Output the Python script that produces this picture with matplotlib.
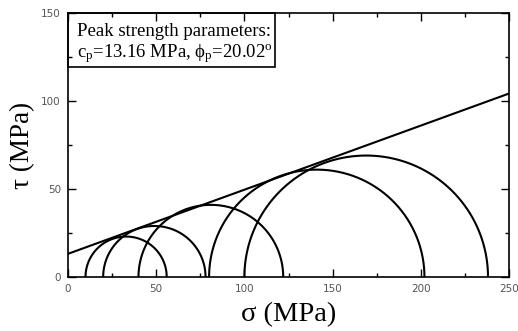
import numpy as np
import matplotlib
matplotlib.use('Agg')
from matplotlib import pyplot as plt
from matplotlib.patches import Rectangle

# triaxial test results (MPa)
sigma3 = [10, 20, 40, 80, 100]
sigma1 = [56, 78, 122, 202, 238]

# peak strength envelope
c_p = 13.16
phi_p = 20.02

x_ticks = [0, 50, 100, 150, 200, 250]
y_ticks = [0, 50, 100, 150]

plt.rcParams['mathtext.fontset'] = 'custom'
plt.rcParams['mathtext.rm'] = 'Liberation Serif'
plt.rcParams['mathtext.it'] = 'Liberation Serif'
serif = ['Liberation Serif', 'DejaVu Serif']

fig = plt.figure(figsize=(5.18, 3.31), dpi=100)
ax = fig.add_axes([0.131, 0.163, 0.852, 0.798])

theta = np.linspace(0, np.pi, 400)
for s3, s1 in zip(sigma3, sigma1):
    centre = (s1 + s3) / 2
    radius = (s1 - s3) / 2
    ax.plot(centre + radius * np.cos(theta), radius * np.sin(theta),
            color='black', lw=1.5)

sig = np.array([0, 250])
ax.plot(sig, c_p + sig * np.tan(np.radians(phi_p)), color='black', lw=1.5)

ax.set_xlim(0, 250)
ax.set_ylim(0, 150)
ax.set_xticks(x_ticks)
ax.set_yticks(y_ticks)
ax.set_xticks(np.arange(25, 250, 50), minor=True)
ax.set_yticks(np.arange(25, 150, 50), minor=True)
ax.tick_params(which='both', direction='in', top=True, right=True,
               labelsize=7.5, labelcolor='#555555', width=1.0)
ax.tick_params(which='major', length=6, pad=5)
ax.tick_params(which='minor', length=3)
for sp in ax.spines.values():
    sp.set_linewidth(1.2)

ax.set_xlabel('σ (MPa)', fontsize=20.5, family=serif, labelpad=6)
ax.set_ylabel('τ (MPa)', fontsize=19.5, family=serif, labelpad=4)

ax.add_patch(Rectangle((0, 0.795), 0.469, 0.205, transform=ax.transAxes,
                       fill=False, lw=1.2, color='black', clip_on=False))
ax.text(0.02, 0.93, 'Peak strength parameters:', transform=ax.transAxes,
        fontsize=13.5, family=serif, va='center')
ax.text(0.02, 0.845,
        r'c$_{\rm p}$=13.16 MPa, ϕ$_{\rm p}$=20.02$^{\rm o}$',
        transform=ax.transAxes, fontsize=13.5, family=serif, va='center')

fig.savefig('out.png', dpi=100)
